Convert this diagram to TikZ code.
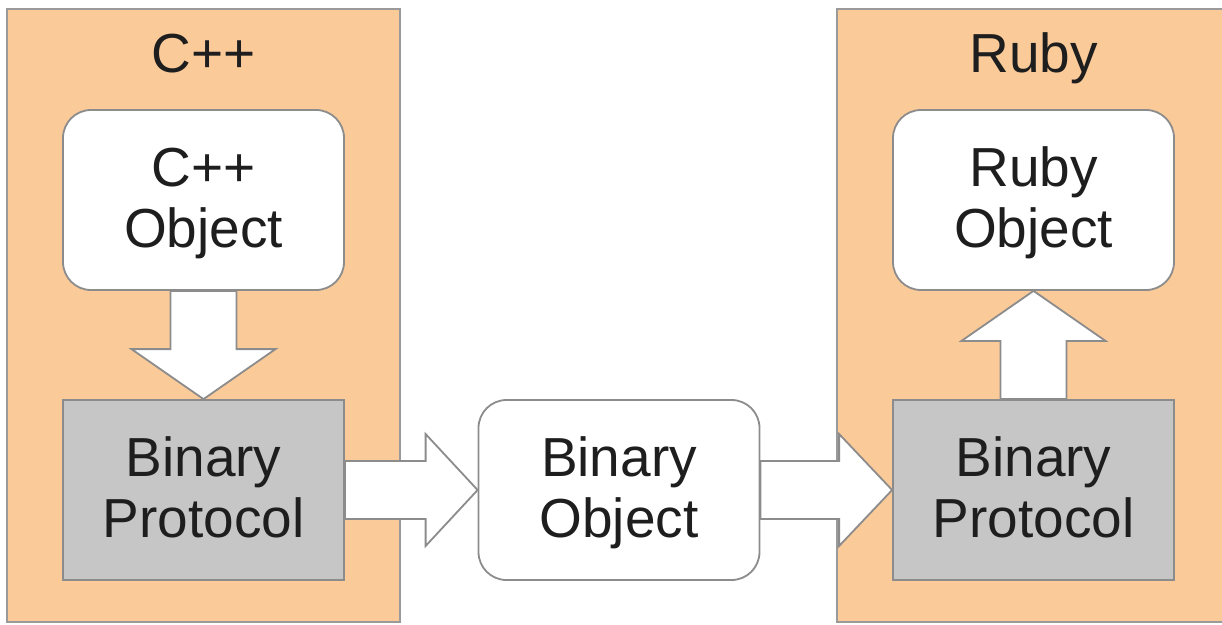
\documentclass[tikz,border=0pt]{standalone}
\usepackage{fontspec}
\setmainfont{Liberation Sans}
\usetikzlibrary{calc}
\definecolor{peach}{HTML}{FACA99}
\definecolor{framegray}{HTML}{9A9A9A}
\definecolor{edgegray}{HTML}{8C8C8C}
\definecolor{protofill}{HTML}{C6C6C6}
\definecolor{ink}{HTML}{1E1E1E}
\pgfdeclarelayer{back}
\pgfdeclarelayer{mid}
\pgfsetlayers{back,mid,main}

\begin{document}
\begin{tikzpicture}[x=1pt,y=-1pt,
  lang/.style={draw=framegray, fill=peach, line width=1.8pt, inner sep=0pt},
  title/.style={font=\fontsize{55}{61}\selectfont, text=ink, inner sep=0pt, anchor=base},
  objbox/.style={draw=edgegray, fill=white, line width=1.8pt, rounded corners=28pt,
    minimum width=281pt, minimum height=180pt, inner sep=0pt, align=center,
    font=\fontsize{55}{61}\selectfont, text=ink, text depth=5pt},
  protobox/.style={objbox, sharp corners, fill=protofill},
  blockarrow/.style={draw=edgegray, fill=white, line width=1.8pt, line join=miter}
]
\useasboundingbox (0,0) rectangle (1222,624);

% language containers
\begin{pgfonlayer}{back}
  \node[lang, minimum width=393pt, minimum height=613pt] (cpp) at (203.5,315.5) {};
  \node[lang, minimum width=403pt, minimum height=613pt] (ruby) at (1038.5,315.5) {};
\end{pgfonlayer}

\node[title] (cpptitle) at (203.5,72) {C++};
\node[title] (rubytitle) at (1033.5,72) {Ruby};

% boxes
\node[objbox]   (cobj)   at (203.5,200) {C++\\Object};
\node[protobox] (cproto) at (203.5,490) {Binary\\Protocol};
\node[objbox]   (bobj)   at (619,490)   {Binary\\Object};
\node[protobox] (rproto) at (1033.5,490) {Binary\\Protocol};
\node[objbox]   (robj)   at (1033.5,200) {Ruby\\Object};

% block arrows
\begin{pgfonlayer}{mid}
  \draw[blockarrow] ($(cobj.south)+(-33,0)$) -- ($(cproto.north)+(-33,-50)$)
    -- ($(cproto.north)+(-72,-50)$) -- (cproto.north) -- ($(cproto.north)+(72,-50)$)
    -- ($(cproto.north)+(33,-50)$) -- ($(cobj.south)+(33,0)$) -- cycle;
  \draw[blockarrow] ($(cproto.east)+(0,-29)$) -- ($(bobj.west)+(-52,-29)$)
    -- ($(bobj.west)+(-52,-56)$) -- (bobj.west) -- ($(bobj.west)+(-52,56)$)
    -- ($(bobj.west)+(-52,29)$) -- ($(cproto.east)+(0,29)$) -- cycle;
  \draw[blockarrow] ($(bobj.east)+(0,-29)$) -- ($(rproto.west)+(-53,-29)$)
    -- ($(rproto.west)+(-53,-56)$) -- (rproto.west) -- ($(rproto.west)+(-53,56)$)
    -- ($(rproto.west)+(-53,29)$) -- ($(bobj.east)+(0,29)$) -- cycle;
  \draw[blockarrow] ($(rproto.north)+(-33,0)$) -- ($(robj.south)+(-33,50)$)
    -- ($(robj.south)+(-72,50)$) -- (robj.south) -- ($(robj.south)+(72,50)$)
    -- ($(robj.south)+(33,50)$) -- ($(rproto.north)+(33,0)$) -- cycle;
\end{pgfonlayer}
\end{tikzpicture}
\end{document}
